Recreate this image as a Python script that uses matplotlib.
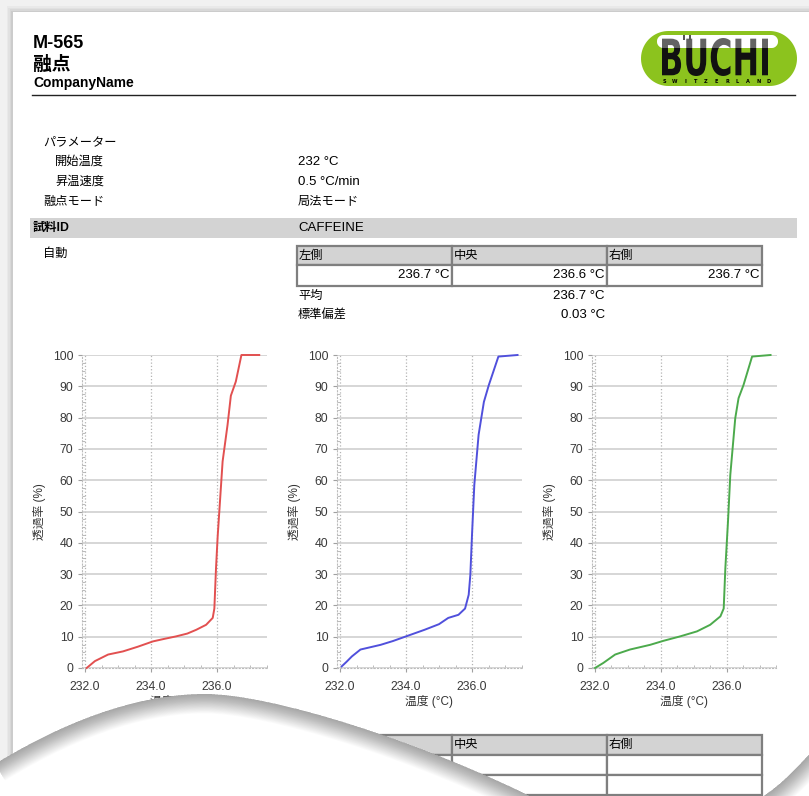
import numpy as np
import matplotlib.pyplot as plt
from matplotlib.patches import Rectangle, Polygon, PathPatch
from matplotlib.path import Path
from matplotlib.textpath import TextPath
from matplotlib.font_manager import FontProperties
from matplotlib.transforms import Affine2D
from matplotlib.ticker import MultipleLocator, FormatStrFormatter

plt.rcParams['font.family'] = ['Liberation Sans', 'Noto Sans CJK JP', 'DejaVu Sans']

W, H = 809, 796

# --- report text ---
device = 'M-565'
title = '融点'
company = 'CompanyName'
param_labels = ['パラメーター', '開始温度', '昇温速度', '融点モード']
param_values = ['', '232 °C', '0.5 °C/min', '局法モード']
sample_id = 'CAFFEINE'
positions = ['左側', '中央', '右側']
melt_points = ['236.7 °C', '236.6 °C', '236.7 °C']
stat_labels = ['平均', '標準偏差']
stat_values = ['236.7 °C', '0.03 °C']

# --- melting curves (temperature °C, transmission %) ---
red_t = [232.05, 232.3, 232.7, 233.15, 233.6, 234.06, 234.4, 234.76, 235.1, 235.37,
         235.67, 235.87, 235.92, 235.97, 236.02, 236.07, 236.17, 236.32, 236.42,
         236.57, 236.74, 237.28]
red_p = [0, 2.2, 4.3, 5.3, 6.8, 8.5, 9.3, 10.1, 11, 12.2, 13.8, 16, 19, 31.9, 42,
         50, 66, 77.7, 87, 91.5, 100, 100]
blue_t = [232.05, 232.2, 232.36, 232.62, 233.23, 233.6, 234.0, 234.56, 235.0, 235.28,
          235.59, 235.79, 235.9, 235.95, 236.0, 236.07, 236.2, 236.36, 236.51,
          236.8, 237.38]
blue_p = [0.5, 2, 3.7, 5.9, 7.4, 8.6, 10.1, 12.2, 14, 16, 17, 19, 23.4, 29.8, 42.5,
          58.5, 74.5, 85, 90.4, 99.5, 100]
green_t = [232.0, 232.25, 232.61, 233.06, 233.67, 234.08, 234.58, 235.09, 235.49,
           235.8, 235.9, 235.95, 236.03, 236.1, 236.25, 236.35, 236.5, 236.76, 237.32]
green_p = [0, 1.6, 4.3, 5.9, 7.4, 8.7, 10.1, 11.7, 13.8, 16.5, 19, 31.9, 46.8, 61.7,
           79.8, 86.2, 90.4, 99.5, 100]
curves = [(red_t, red_p, '#e25050'), (blue_t, blue_p, '#5050dc'), (green_t, green_p, '#4caa4c')]

FS = 9.5    # latin body text
FJ = 8.8    # japanese body text

fig = plt.figure(figsize=(W / 100, H / 100), dpi=100)
fig.patch.set_facecolor('#f1f1f1')

# background axes in pixel coordinates
bg = fig.add_axes([0, 0, 1, 1], zorder=-1)
bg.set_xlim(0, W)
bg.set_ylim(H, 0)
bg.axis('off')

# page with soft shadow
for i, a in enumerate([0.03, 0.03, 0.04, 0.05]):
    off = 6 - i * 1.5
    bg.add_patch(Rectangle((13 - off, 12 - off), W + 20, H + 20, color='black', alpha=a, lw=0))
bg.add_patch(Rectangle((13, 12), W + 20, H + 20, color='white', lw=0))

# header
bg.text(33, 48, device, fontsize=13, weight='bold', va='baseline')
bg.text(33, 70, title, fontsize=13.5, weight='bold', va='baseline')
bg.text(33, 87, company, fontsize=10, weight='bold', va='baseline')
bg.plot([32, 795], [95, 95], color='#222222', lw=1)


def pill(x0, x1, y0, y1):
    r = (y1 - y0) / 2
    cy = (y0 + y1) / 2
    a = np.linspace(-np.pi / 2, np.pi / 2, 40)
    right = np.c_[x1 - r + r * np.cos(a), cy + r * np.sin(a)]
    left = np.c_[x0 + r - r * np.cos(a), cy - r * np.sin(a)]
    return np.vstack([right, left])


# logo
bg.add_patch(Polygon(pill(641, 797, 31, 86), closed=True, color='#8cc31e', lw=0))
bg.add_patch(Polygon(pill(657, 778, 35, 48), closed=True, color='white', lw=0))
tp = TextPath((0, 0), 'BUCHI', size=1, prop=FontProperties(family='DejaVu Sans', weight='bold'))
ext = tp.get_extents()
tr = Affine2D().translate(-ext.x0, -ext.y0).scale(106 / ext.width, -38 / ext.height).translate(662, 76)
bg.add_patch(PathPatch(tr.transform_path(tp), color='#111111', lw=0))
bg.add_patch(Polygon(pill(657, 778, 35, 48), closed=True, color='white', alpha=0.35, lw=0))
bg.add_patch(Rectangle((683, 34.5), 2, 5, color='#555555', lw=0))
bg.add_patch(Rectangle((689, 34.5), 2, 5, color='#555555', lw=0))
for k, ch in enumerate('SWITZERLAND'):
    bg.text(664 + k * 10.5, 81.5, ch, fontsize=3.6, weight='bold', ha='center', va='center',
            family='DejaVu Sans')

# parameters
param_y = [142, 162, 182, 202]
param_x = [43, 55, 55, 43]
for lab, val, y, x in zip(param_labels, param_values, param_y, param_x):
    bg.text(x, y, lab, fontsize=FJ, va='center')
    bg.text(298, y, val, fontsize=FS if val[:1].isdigit() else FJ, va='center')

bg.add_patch(Rectangle((30, 218), 767, 20, color='#d3d3d3', lw=0))
bg.text(33, 228, '試料ID', fontsize=FJ, weight='bold', va='center')
bg.text(298, 228, sample_id, fontsize=FS, va='center')
bg.text(43, 254, '自動', fontsize=FJ, va='center')

col_x = [297, 452, 607, 762]
edge = '#7f7f7f'


def draw_table(top, row_h, n_rows, values):
    for c in range(3):
        bg.add_patch(Rectangle((col_x[c], top), col_x[c + 1] - col_x[c], row_h[0],
                               facecolor='#d3d3d3', edgecolor=edge, lw=1.6))
        bg.text(col_x[c] + 2, top + row_h[0] / 2, positions[c], fontsize=FJ, va='center')
        y = top + row_h[0]
        for r in range(n_rows):
            bg.add_patch(Rectangle((col_x[c], y), col_x[c + 1] - col_x[c], row_h[1],
                                   facecolor='white', edgecolor=edge, lw=1.6))
            if values is not None:
                bg.text(col_x[c + 1] - 2, y + row_h[1] / 2, values[c], fontsize=FS,
                        va='center', ha='right')
            y += row_h[1]


draw_table(246, (19, 21), 1, melt_points)
for lab, val, y in zip(stat_labels, stat_values, [296, 315]):
    bg.text(298, y, lab, fontsize=FJ, va='center')
    bg.text(605, y, val, fontsize=FS, va='center', ha='right')

draw_table(735, (20, 20), 2, None)

# melting curve charts
starts = [85, 340, 595]
scale = 33.0
for (t, p, col), x0 in zip(curves, starts):
    left = x0 - 0.1 * scale
    width = 5.6 * scale
    ax = fig.add_axes([left / W, 1 - 668 / H, width / W, 313 / H], zorder=1)
    ax.set_facecolor('none')
    ax.plot(t, p, color=col, lw=1.4, clip_on=False, zorder=3)
    ax.set_xlim(231.9, 237.5)
    ax.set_ylim(0, 100)
    ax.set_xticks([232, 234, 236])
    ax.xaxis.set_major_formatter(FormatStrFormatter('%.1f'))
    ax.xaxis.set_minor_locator(MultipleLocator(0.5))
    ax.set_yticks(range(0, 101, 10))
    ax.yaxis.set_minor_locator(MultipleLocator(2.5))
    ax.tick_params(which='major', direction='out', length=3, color='#a0a0a0',
                   labelsize=8.8, labelcolor='#3a3a3a', pad=3)
    ax.tick_params(axis='x', which='major', pad=6)
    ax.tick_params(which='minor', direction='in', length=2.5, color='#b0b0b0')
    ax.grid(axis='y', which='major', color='#cccccc', lw=1.1)
    ax.grid(axis='x', which='major', color='#b4b4b4', lw=0.9, ls=':')
    for s in ['top', 'right']:
        ax.spines[s].set_visible(False)
    for s in ['left', 'bottom']:
        ax.spines[s].set_color('#bbbbbb')
        ax.spines[s].set_linewidth(0.8)
        ax.spines[s].set_linestyle((0, (1, 2)))
    ax.set_xlabel('温度 (°C)', fontsize=8.5, color='#333333')
    ax.xaxis.label.set_va('center')
    ax.xaxis.set_label_coords(0.5, (668 - 702) / 313)
    ax.set_ylabel('透過率 (%)', fontsize=8.5, color='#333333')
    ax.yaxis.label.set_va('center')
    ax.yaxis.set_label_coords(-42 / width, 0.5)

# page curl at the bottom
top = fig.add_axes([0, 0, 1, 1], zorder=5)
top.set_xlim(0, W)
top.set_ylim(H, 0)
top.axis('off')
top.patch.set_alpha(0)

left_verts = [(-5, 764), (80, 712), (150, 694), (205, 694),
              (270, 694), (420, 740), (548, 805),
              (548, 820), (-5, 820), (-5, 764)]
left_codes = [Path.MOVETO, Path.CURVE4, Path.CURVE4, Path.CURVE4,
              Path.CURVE4, Path.CURVE4, Path.CURVE4,
              Path.LINETO, Path.LINETO, Path.CLOSEPOLY]
right_verts = [(748, 805), (775, 792), (795, 770), (815, 748),
               (820, 748), (820, 820), (748, 820), (748, 805)]
right_codes = [Path.MOVETO, Path.CURVE4, Path.CURVE4, Path.CURVE4,
               Path.LINETO, Path.LINETO, Path.LINETO, Path.CLOSEPOLY]

for verts, codes, n_edge in [(left_verts, left_codes, 7), (right_verts, right_codes, 4)]:
    region = PathPatch(Path(verts, codes), facecolor='white', edgecolor='none', zorder=1)
    top.add_patch(region)
    edge_path = Path(verts[:n_edge], codes[:n_edge])
    for lw in np.linspace(28, 1, 24):
        pp = PathPatch(edge_path, facecolor='none', edgecolor='black', lw=lw, alpha=0.016,
                       zorder=2, capstyle='butt')
        top.add_patch(pp)
        pp.set_clip_path(region)

fig.savefig('out.png', dpi=100, facecolor=fig.get_facecolor())
